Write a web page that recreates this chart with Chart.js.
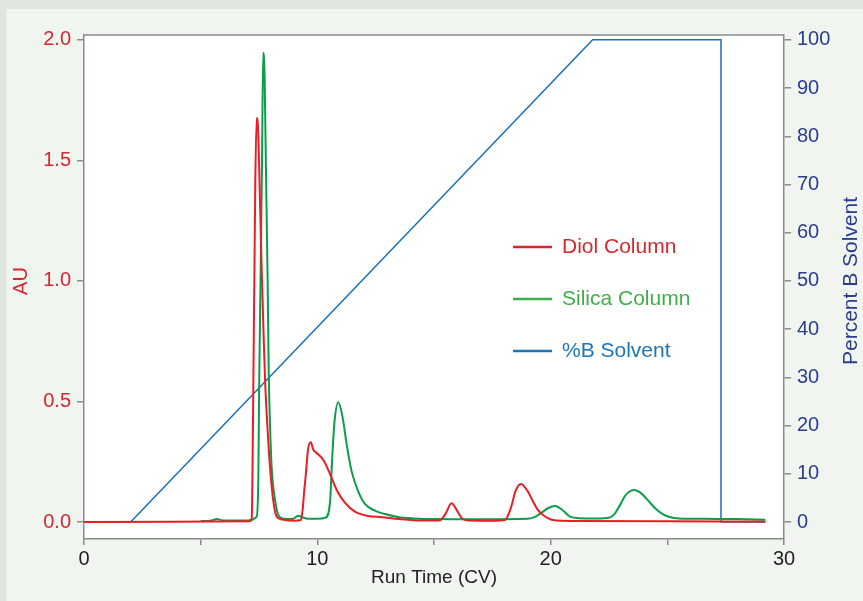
<!DOCTYPE html>
<html>
<head>
<meta charset="utf-8">
<script src="https://cdn.jsdelivr.net/npm/chart.js@4.4.1/dist/chart.umd.min.js"></script>
<style>
  html, body { margin: 0; padding: 0; background: #f1f5f0; }
  #wrap { position: relative; width: 863px; height: 601px; }
</style>
</head>
<body>
<div id="wrap"><canvas id="chromChart" width="863" height="601"></canvas></div>
<script>
// Diol column trace (run time in CV, absorbance in AU)
const diolTime = [0, 7.10, 7.19, 7.22, 7.26, 7.30, 7.34, 7.40, 7.46, 7.55, 7.62, 7.69, 7.76, 7.87, 7.97, 8.11, 8.26, 8.5, 9.0, 9.3,
    9.38, 9.43, 9.51, 9.6, 9.72, 9.83, 9.97, 10.26, 10.54, 10.83, 11.19, 11.61, 12.17, 12.76, 13.5, 14.5, 15.23, 15.5, 15.75, 16.0,
    16.2, 16.46, 17.5, 18.04, 18.3, 18.5, 18.73, 19.0, 19.25, 19.45, 19.67, 19.9, 20.1, 21.0, 25.0, 29.2];
const diolAU = [0, 0.003, 0.017, 0.2, 0.6, 1.0, 1.4, 1.676, 1.63, 1.3, 1.03, 0.8, 0.59, 0.38, 0.23, 0.09, 0.022, 0.01, 0.005, 0.008,
    0.06, 0.12, 0.2, 0.3, 0.331, 0.3, 0.286, 0.257, 0.2, 0.133, 0.079, 0.043, 0.025, 0.02, 0.012, 0.006, 0.006, 0.035, 0.078, 0.045,
    0.015, 0.006, 0.005, 0.008, 0.06, 0.13, 0.158, 0.13, 0.084, 0.05, 0.029, 0.015, 0.008, 0.004, 0.003, 0.002];

// Silica column trace
const silicaTime = [5.0, 5.4, 5.7, 6.0, 7.0, 7.40, 7.47, 7.51, 7.57, 7.63, 7.68, 7.74, 7.8, 7.87, 7.92, 7.98, 8.04, 8.19, 8.37, 8.6,
    8.9, 9.05, 9.18, 9.35, 9.6, 10.0, 10.35, 10.54, 10.64, 10.73, 10.9, 11.09, 11.26, 11.47, 11.76, 12.04, 12.47, 12.9, 13.5, 14.0,
    15.0, 17.0, 19.0, 19.3, 19.6, 19.9, 20.19, 20.5, 20.83, 21.2, 22.0, 22.5, 22.75, 22.97, 23.2, 23.45, 23.58, 23.8, 24.0, 24.26,
    24.5, 24.8, 25.1, 25.5, 26.5, 28.0, 29.2];
const silicaAU = [0.004, 0.005, 0.012, 0.006, 0.006, 0.022, 0.174, 0.59, 1.03, 1.5, 1.946, 1.85, 1.45, 1.0, 0.6, 0.38, 0.23, 0.09, 0.022, 0.013,
    0.012, 0.018, 0.026, 0.02, 0.013, 0.013, 0.018, 0.079, 0.27, 0.41, 0.497, 0.43, 0.32, 0.21, 0.125, 0.075, 0.047, 0.033, 0.02, 0.016,
    0.012, 0.011, 0.013, 0.02, 0.038, 0.058, 0.066, 0.05, 0.022, 0.016, 0.015, 0.018, 0.035, 0.07, 0.11, 0.13, 0.133, 0.125, 0.108, 0.08,
    0.055, 0.033, 0.021, 0.015, 0.013, 0.012, 0.009];

// Gradient program, percent B solvent
const solventTime = [0, 2.0, 21.8, 27.3, 27.3, 29.2];
const solventPct = [0, 0, 100, 100, 0, 0];

// tick values
const xTicks = [0, 5, 10, 15, 20, 25, 30];
const auTicks = [0, 0.5, 1.0, 1.5, 2.0];
const pctTicks = [0, 10, 20, 30, 40, 50, 60, 70, 80, 90, 100];

const seriesLabels = ['Diol Column', 'Silica Column', '%B Solvent'];

const FONT = '"Liberation Sans", Arial, sans-serif';
const lineColors = ['#ec1c24', '#0a9e4a', '#1b6fba'];
const legendColors = ['#d9262e', '#3daf4a', '#1b75bb'];
const AU_RED = '#d7262f';
const PCT_BLUE = '#2a3d8c';
const FRAME = '#8a8a8a';

function toPoints(xs, ys) {
    return xs.map((x, i) => ({ x: x, y: ys[i] }));
}

const backdrop = {
    id: 'backdrop',
    beforeDraw(chart) {
        const { ctx, width, height, chartArea } = chart;
        ctx.save();
        ctx.fillStyle = '#f1f5f0';
        ctx.fillRect(0, 0, width, height);
        ctx.fillStyle = '#dfe5df';
        ctx.fillRect(0, 0, width, 9);
        ctx.fillRect(0, 0, 6, height);
        ctx.fillStyle = '#ffffff';
        ctx.fillRect(chartArea.left, chartArea.top, chartArea.right - chartArea.left, chartArea.bottom - chartArea.top);
        ctx.restore();
    },
    afterDraw(chart) {
        const { ctx, chartArea } = chart;
        ctx.save();
        // top frame line
        ctx.strokeStyle = FRAME;
        ctx.lineWidth = 1.5;
        ctx.beginPath();
        ctx.moveTo(chartArea.left, chartArea.top);
        ctx.lineTo(chartArea.right, chartArea.top);
        ctx.stroke();

        // axis titles
        ctx.textAlign = 'center';
        ctx.textBaseline = 'middle';
        ctx.font = '19px ' + FONT;
        ctx.fillStyle = '#222222';
        ctx.fillText('Run Time (CV)', (chartArea.left + chartArea.right) / 2, 578);

        ctx.font = '20px ' + FONT;
        ctx.save();
        ctx.translate(21, 281);
        ctx.rotate(-Math.PI / 2);
        ctx.fillStyle = AU_RED;
        ctx.fillText('AU', 0, 0);
        ctx.restore();

        ctx.font = '21px ' + FONT;
        ctx.save();
        ctx.translate(851, 281);
        ctx.rotate(-Math.PI / 2);
        ctx.fillStyle = PCT_BLUE;
        ctx.fillText('Percent B Solvent', 0, 0);
        ctx.restore();

        // legend inside plot
        const rowY = [247, 299, 351];
        ctx.textAlign = 'left';
        ctx.font = '21px ' + FONT;
        chart.data.datasets.forEach((ds, i) => {
            ctx.strokeStyle = legendColors[i];
            ctx.lineWidth = 2.5;
            ctx.beginPath();
            ctx.moveTo(513, rowY[i]);
            ctx.lineTo(552, rowY[i]);
            ctx.stroke();
            ctx.fillStyle = legendColors[i];
            ctx.fillText(ds.label, 562, rowY[i]);
        });
        ctx.restore();
    }
};

const ctx = document.getElementById('chromChart').getContext('2d');
new Chart(ctx, {
    type: 'line',
    data: {
        datasets: [
            {
                label: seriesLabels[0],
                data: toPoints(diolTime, diolAU),
                borderColor: lineColors[0],
                borderWidth: 2,
                yAxisID: 'y',
                cubicInterpolationMode: 'monotone'
            },
            {
                label: seriesLabels[1],
                data: toPoints(silicaTime, silicaAU),
                borderColor: lineColors[1],
                borderWidth: 2,
                yAxisID: 'y',
                cubicInterpolationMode: 'monotone'
            },
            {
                label: seriesLabels[2],
                data: toPoints(solventTime, solventPct),
                borderColor: lineColors[2],
                borderWidth: 1.5,
                yAxisID: 'y2',
                tension: 0
            }
        ]
    },
    options: {
        responsive: false,
        animation: false,
        events: [],
        elements: { point: { radius: 0 } },
        layout: { padding: { top: 35, left: 0, right: 0, bottom: 0 } },
        plugins: {
            legend: { display: false },
            tooltip: { enabled: false }
        },
        scales: {
            x: {
                type: 'linear',
                min: 0,
                max: 30,
                afterFit: (scale) => { scale.height = 62; },
                afterBuildTicks: (scale) => { scale.ticks = xTicks.map(v => ({ value: v })); },
                border: { display: true, color: FRAME, width: 1.5 },
                grid: { drawOnChartArea: false, drawTicks: true, tickLength: 6, color: FRAME, lineWidth: 1.5 },
                ticks: {
                    padding: 2,
                    color: '#222222',
                    font: { family: FONT, size: 20 },
                    maxRotation: 0,
                    autoSkip: false,
                    callback: (v) => (v % 10 === 0 ? String(v) : '')
                }
            },
            y: {
                position: 'left',
                min: -0.0705,
                max: 2.02,
                afterFit: (scale) => { scale.width = 84; },
                afterBuildTicks: (scale) => { scale.ticks = auTicks.map(v => ({ value: v })); },
                border: { display: true, color: FRAME, width: 1.5 },
                grid: { drawOnChartArea: false, drawTicks: true, tickLength: 7, color: FRAME, lineWidth: 1.5 },
                ticks: {
                    padding: 6,
                    color: AU_RED,
                    font: { family: FONT, size: 20 },
                    callback: (v) => v.toFixed(1)
                }
            },
            y2: {
                position: 'right',
                min: -3.525,
                max: 101,
                afterFit: (scale) => { scale.width = 79; },
                afterBuildTicks: (scale) => { scale.ticks = pctTicks.map(v => ({ value: v })); },
                border: { display: true, color: FRAME, width: 1.5 },
                grid: { drawOnChartArea: false, drawTicks: true, tickLength: 7, color: FRAME, lineWidth: 1.5 },
                ticks: {
                    padding: 6,
                    color: PCT_BLUE,
                    font: { family: FONT, size: 20 },
                    callback: (v) => String(v)
                }
            }
        }
    },
    plugins: [backdrop]
});
</script>
</body>
</html>
